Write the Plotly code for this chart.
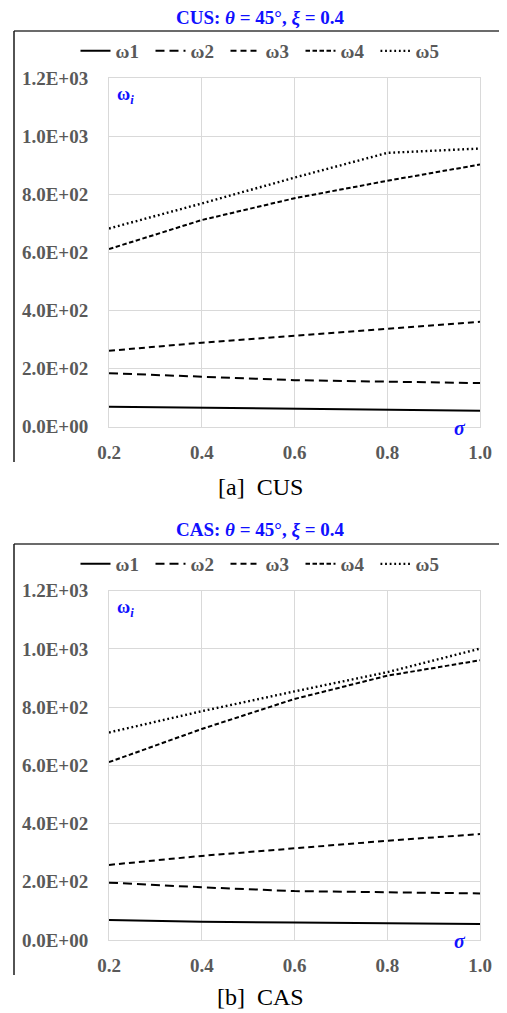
import plotly.graph_objects as go

sigma = [0.2, 0.4, 0.6, 0.8, 1.0]
series_names = ["ω1", "ω2", "ω3", "ω4", "ω5"]

cus_w1 = [69, 65, 62, 59, 55]
cus_w2 = [184, 171, 160, 155, 150]
cus_w3 = [261, 289, 313, 338, 361]
cus_w4 = [611, 711, 786, 846, 902]
cus_w5 = [682, 768, 857, 942, 957]

cas_w1 = [69, 63, 60, 58, 55]
cas_w2 = [197, 181, 168, 163, 160]
cas_w3 = [258, 289, 315, 341, 364]
cas_w4 = [611, 725, 828, 908, 961]
cas_w5 = [713, 786, 854, 920, 1001]

y_tickvals = [0, 200, 400, 600, 800, 1000, 1200]
y_ticktext = ["0.0E+00", "2.0E+02", "4.0E+02", "6.0E+02", "8.0E+02", "1.0E+03", "1.2E+03"]
x_tickvals = [0.2, 0.4, 0.6, 0.8, 1.0]
x_ticktext = ["0.2", "0.4", "0.6", "0.8", "1.0"]

titles = ["CUS: <i>θ</i> = 45°, <i>ξ</i> = 0.4", "CAS: <i>θ</i> = 45°, <i>ξ</i> = 0.4"]
captions = ["[a]  CUS", "[b]  CAS"]

OFF = 8  # default page margin of the html body
W, H = 507 - OFF, 1013 - OFF
FONT = "Liberation Serif"
TICKCOL = "#595959"
BLUE = "#1010ff"
dashes = ["solid", "9px,5px", "6px,4px", "4.5px,2.5px", "1.8px,2.8px"]
widths = [2, 2, 2, 2, 2.4]

def px_x(p):
    return (p - OFF) / W

def px_y(p):
    return 1 - (p - OFF) / H

fig = go.Figure()

panels = [
    dict(data=[cus_w1, cus_w2, cus_w3, cus_w4, cus_w5], top=77.9, bot=426.7,
         title_y=18, box_top=31, box_bot=462, legend_y=51, caption_y=487, legend="legend"),
    dict(data=[cas_w1, cas_w2, cas_w3, cas_w4, cas_w5], top=590.7, bot=940.0,
         title_y=530, box_top=544, box_bot=975, legend_y=564, caption_y=997, legend="legend2"),
]

x0p, x1p = 109, 480
annotations = []
shapes = []
for i, pnl in enumerate(panels):
    xa = "x" if i == 0 else "x2"
    ya = "y" if i == 0 else "y2"
    for k, vals in enumerate(pnl["data"]):
        fig.add_trace(go.Scatter(
            x=sigma, y=vals, mode="lines", name=series_names[k],
            line=dict(color="black", width=widths[k], dash=dashes[k]),
            xaxis=xa, yaxis=ya, legend=pnl["legend"], showlegend=True,
        ))
    annotations.append(dict(text="<b>" + titles[i] + "</b>", x=px_x(261), y=px_y(pnl["title_y"]),
                            xref="paper", yref="paper", showarrow=False, xanchor="center",
                            yanchor="middle", font=dict(family=FONT, size=19, color=BLUE)))
    annotations.append(dict(text=captions[i], x=px_x(261), y=px_y(pnl["caption_y"]),
                            xref="paper", yref="paper", showarrow=False, xanchor="center",
                            yanchor="middle", font=dict(family=FONT, size=24, color="black")))
    annotations.append(dict(text="<b>ω<sub><i>i</i></sub></b>", x=px_x(115), y=px_y(pnl["top"] + 18),
                            xref="paper", yref="paper", showarrow=False, xanchor="left",
                            yanchor="middle", font=dict(family=FONT, size=18, color=BLUE)))
    annotations.append(dict(text="<b><i>σ</i></b>", x=px_x(460), y=px_y(pnl["bot"] + 1),
                            xref="paper", yref="paper", showarrow=False, xanchor="center",
                            yanchor="middle", font=dict(family=FONT, size=20, color=BLUE)))
    shapes.append(dict(type="line", xref="paper", yref="paper", x0=px_x(14), x1=1.0,
                       y0=px_y(pnl["box_top"]), y1=px_y(pnl["box_top"]),
                       line=dict(color="#3a3a3a", width=1.5)))
    shapes.append(dict(type="line", xref="paper", yref="paper", x0=px_x(14), x1=px_x(14),
                       y0=px_y(pnl["box_top"]), y1=px_y(pnl["box_bot"]),
                       line=dict(color="#1a1a1a", width=1.5)))

axis_common = dict(showgrid=True, gridcolor="#d9d9d9", gridwidth=1, zeroline=False,
                   showline=True, linecolor="#d9d9d9", linewidth=1, mirror=True,
                   tickfont=dict(family=FONT, size=19, color=TICKCOL, weight="bold"),
                   ticks="", automargin=False)

xdom = [px_x(x0p), px_x(x1p)]
layout_axes = {}
for i, pnl in enumerate(panels):
    sfx = "" if i == 0 else "2"
    layout_axes["xaxis" + sfx] = dict(axis_common, domain=xdom, range=[0.2, 1.0],
                                      tickvals=x_tickvals, ticktext=x_ticktext,
                                      anchor="y" + sfx, ticklabelstandoff=8)
    layout_axes["yaxis" + sfx] = dict(axis_common, domain=[px_y(pnl["bot"]), px_y(pnl["top"])],
                                      range=[0, 1200], tickvals=y_tickvals, ticktext=y_ticktext,
                                      anchor="x" + sfx, ticklabelstandoff=16)

legend_common = dict(orientation="h", xanchor="center", yanchor="middle", x=px_x(263),
                     font=dict(family=FONT, size=19, color=TICKCOL, weight="bold"),
                     entrywidth=30, entrywidthmode="pixels", bgcolor="rgba(0,0,0,0)",
                     itemwidth=30, tracegroupgap=0)

fig.update_layout(
    width=W, height=H, margin=dict(l=0, r=0, t=0, b=0, pad=0, autoexpand=False),
    paper_bgcolor="white", plot_bgcolor="white",
    annotations=annotations, shapes=shapes,
    legend=dict(legend_common, y=px_y(panels[0]["legend_y"])),
    legend2=dict(legend_common, y=px_y(panels[1]["legend_y"])),
    **layout_axes,
)

fig.write_html("out.html")
